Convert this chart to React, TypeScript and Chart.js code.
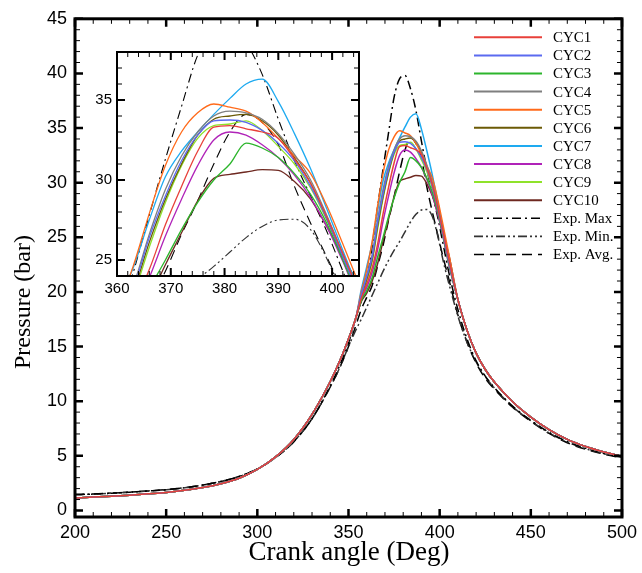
import React, { useEffect, useRef } from "react";
import { Chart, registerables } from "chart.js";
Chart.register(...registerables);

// ---------------- DATA ----------------
const SERIES_LABELS = ["CYC1", "CYC2", "CYC3", "CYC4", "CYC5", "CYC6", "CYC7", "CYC8", "CYC9", "CYC10", "Exp. Max", "Exp. Min.", "Exp. Avg."];
const SERIES_COLORS = ["#e8403a", "#5b6af0", "#2cb52c", "#7f7f7f", "#ff6a1a", "#6b5a05", "#1eaaf0", "#b023b8", "#8fe22a", "#6e2820", "#000000", "#333333", "#000000"];

const X_TICKS_MAIN = [200, 250, 300, 350, 400, 450, 500];
const Y_TICKS_MAIN = [0, 5, 10, 15, 20, 25, 30, 35, 40, 45];
const X_TICKS_INSET = [360, 370, 380, 390, 400];
const Y_TICKS_INSET = [25, 30, 35];

// compression part (crank angle, deg)
const COMP_ANGLES = [200, 210, 220, 230, 240, 250, 260, 270, 280, 290, 300, 310, 320, 330, 340, 345, 350, 354];
const CYC_COMP = [1.15, 1.22, 1.3, 1.4, 1.52, 1.65, 1.85, 2.1, 2.45, 2.95, 3.75, 4.9, 6.5, 8.8, 11.8, 13.6, 15.7, 17.6];
const EXP_AVG_COMP = [1.45, 1.5, 1.58, 1.67, 1.78, 1.9, 2.08, 2.32, 2.65, 3.1, 3.8, 4.85, 6.3, 8.4, 11.3, 13.0, 15.0, 16.9];
const EXP_MAX_COMP = [1.45, 1.5, 1.58, 1.67, 1.78, 1.9, 2.08, 2.32, 2.65, 3.1, 3.8, 4.85, 6.3, 8.4, 11.4, 13.2, 15.3, 17.6];
const EXP_MIN_COMP = [1.45, 1.5, 1.58, 1.67, 1.78, 1.9, 2.08, 2.32, 2.65, 3.1, 3.8, 4.85, 6.3, 8.4, 11.3, 13.0, 15.0, 16.5];

// combustion part
const PEAK_ANGLES = [357, 360, 363, 366, 369, 372, 375, 378, 381, 384, 387, 390, 393, 396, 399, 402, 405];
const CYC1_PEAK = [19.4, 20.7, 22.2, 24.4, 27.2, 29.6, 31.8, 33.3, 33.4, 33.2, 33.0, 32.6, 31.3, 29.8, 27.7, 25.4, 23.0];
const CYC2_PEAK = [19.7, 21.4, 23.2, 26.4, 29.0, 31.2, 32.8, 33.7, 33.75, 33.6, 33.1, 32.3, 31.2, 29.6, 27.6, 25.2, 22.8];
const CYC3_PEAK = [19.2, 20.1, 21.3, 23.2, 25.0, 26.9, 28.6, 30.0, 31.0, 32.3, 32.0, 31.4, 30.4, 29.1, 27.3, 25.0, 22.6];
const CYC4_PEAK = [19.8, 21.5, 23.4, 26.6, 29.4, 31.5, 33.0, 34.0, 34.3, 34.2, 33.8, 32.9, 31.6, 30.0, 27.8, 25.4, 23.0];
const CYC5_PEAK = [20.0, 22.0, 24.6, 27.9, 30.9, 33.0, 34.2, 34.75, 34.55, 34.3, 33.6, 32.6, 31.5, 30.4, 28.4, 26.0, 23.5];
const CYC6_PEAK = [19.6, 21.2, 23.0, 26.1, 28.8, 31.0, 32.8, 33.8, 34.0, 34.1, 33.7, 32.8, 31.4, 29.8, 27.6, 25.2, 22.8];
const CYC7_PEAK = [20.2, 22.3, 24.5, 27.5, 30.2, 31.8, 33.0, 34.1, 35.1, 36.0, 36.3, 34.9, 32.9, 30.7, 28.2, 25.6, 23.1];
const CYC8_PEAK = [19.3, 20.4, 21.8, 23.9, 26.5, 28.8, 30.9, 32.5, 33.0, 32.8, 32.2, 31.4, 30.3, 28.9, 27.1, 24.9, 22.5];
const CYC9_PEAK = [19.6, 21.0, 22.8, 25.8, 28.6, 30.9, 32.6, 33.4, 33.5, 33.7, 33.1, 32.1, 31.0, 29.5, 27.5, 25.2, 22.8];
const CYC10_PEAK = [19.1, 19.9, 21.0, 22.6, 24.7, 26.7, 28.7, 30.1, 30.35, 30.5, 30.65, 30.6, 29.9, 28.8, 27.1, 25.2, 23.4];
const EXP_MAX_PEAK = [19.2, 21.0, 24.2, 27.8, 31.3, 34.6, 37.8, 39.5, 39.8, 38.6, 36.6, 33.8, 31.2, 29.0, 26.8, 24.3, 21.8];
const EXP_MIN_PEAK = [17.5, 18.6, 19.7, 20.8, 21.9, 22.9, 23.8, 24.6, 25.5, 26.4, 27.1, 27.5, 27.55, 26.9, 25.1, 22.8, 20.8];
const EXP_AVG_PEAK = [18.4, 19.5, 20.6, 22.4, 24.3, 26.6, 28.7, 31.0, 33.0, 34.1, 33.6, 32.2, 29.6, 27.3, 25.2, 23.1, 21.2];

// expansion part
const TAIL_ANGLES = [410, 415, 420, 425, 430, 440, 450, 460, 470, 480, 490, 500];
const CYC_TAIL = [19.3, 16.5, 14.4, 12.9, 11.75, 9.95, 8.55, 7.4, 6.5, 5.85, 5.35, 4.95];
const EXP_MAX_TAIL = [18.4, 15.7, 13.7, 12.3, 11.25, 9.55, 8.25, 7.15, 6.3, 5.7, 5.22, 4.85];
const EXP_MIN_TAIL = [17.8, 15.4, 13.6, 12.25, 11.2, 9.5, 8.2, 7.1, 6.25, 5.65, 5.2, 4.85];
const EXP_AVG_TAIL = [17.9, 15.4, 13.5, 12.1, 11.1, 9.45, 8.15, 7.05, 6.2, 5.6, 5.15, 4.8];

const CYC_PEAKS = [CYC1_PEAK, CYC2_PEAK, CYC3_PEAK, CYC4_PEAK, CYC5_PEAK, CYC6_PEAK, CYC7_PEAK, CYC8_PEAK, CYC9_PEAK, CYC10_PEAK];

// ---------------- HELPERS ----------------
function buildPoints(comp: number[], peak: number[], tail: number[]) {
  const pts: { x: number; y: number }[] = [];
  COMP_ANGLES.forEach((a, i) => pts.push({ x: a, y: comp[i] }));
  PEAK_ANGLES.forEach((a, i) => pts.push({ x: a, y: peak[i] }));
  TAIL_ANGLES.forEach((a, i) => pts.push({ x: a, y: tail[i] }));
  return pts;
}

const DASHES: number[][] = [[9, 4, 2, 4], [9, 3, 2, 3, 2, 3], [10, 6]];

function buildDatasets(cycWidth: number, expWidth: number) {
  const ds: any[] = [];
  CYC_PEAKS.forEach((pk, i) => {
    ds.push({
      label: SERIES_LABELS[i],
      data: buildPoints(CYC_COMP, pk, CYC_TAIL),
      borderColor: SERIES_COLORS[i],
      borderWidth: cycWidth,
      borderDash: [],
    });
  });
  const expSets = [
    [EXP_MAX_COMP, EXP_MAX_PEAK, EXP_MAX_TAIL],
    [EXP_MIN_COMP, EXP_MIN_PEAK, EXP_MIN_TAIL],
    [EXP_AVG_COMP, EXP_AVG_PEAK, EXP_AVG_TAIL],
  ];
  expSets.forEach((s, j) => {
    ds.push({
      label: SERIES_LABELS[10 + j],
      data: buildPoints(s[0], s[1], s[2]),
      borderColor: SERIES_COLORS[10 + j],
      borderWidth: expWidth,
      borderDash: DASHES[j],
    });
  });
  return ds.map((d) => ({
    ...d,
    pointRadius: 0,
    fill: false,
    cubicInterpolationMode: "monotone",
  }));
}

// frame + inward ticks on all four sides
const frameTicks = {
  id: "frameTicks",
  afterDatasetsDraw(chart: any, _args: any, opts: any) {
    const { ctx, chartArea: ca, scales } = chart;
    const xs = scales.x;
    const ys = scales.y;
    ctx.save();
    ctx.strokeStyle = "#000";
    const drawX = (step: number, len: number, lw: number) => {
      ctx.lineWidth = lw;
      ctx.beginPath();
      const n0 = Math.ceil(xs.min / step - 1e-9);
      const n1 = Math.floor(xs.max / step + 1e-9);
      for (let n = n0; n <= n1; n++) {
        const p = xs.getPixelForValue(n * step);
        ctx.moveTo(p, ca.bottom);
        ctx.lineTo(p, ca.bottom - len);
        ctx.moveTo(p, ca.top);
        ctx.lineTo(p, ca.top + len);
      }
      ctx.stroke();
    };
    const drawY = (step: number, len: number, lw: number) => {
      ctx.lineWidth = lw;
      ctx.beginPath();
      const n0 = Math.ceil(ys.min / step - 1e-9);
      const n1 = Math.floor(ys.max / step + 1e-9);
      for (let n = n0; n <= n1; n++) {
        const p = ys.getPixelForValue(n * step);
        ctx.moveTo(ca.left, p);
        ctx.lineTo(ca.left + len, p);
        ctx.moveTo(ca.right, p);
        ctx.lineTo(ca.right - len, p);
      }
      ctx.stroke();
    };
    drawX(opts.xMinor, opts.minorLen, opts.minorWidth);
    drawY(opts.yMinor, opts.minorLen, opts.minorWidth);
    drawX(opts.xMajor, opts.majorLen, opts.majorWidth);
    drawY(opts.yMajor, opts.majorLen, opts.majorWidth);
    ctx.lineWidth = opts.frameWidth;
    ctx.strokeRect(ca.left, ca.top, ca.width, ca.height);
    ctx.restore();
  },
};

const whiteArea = {
  id: "whiteArea",
  beforeDraw(chart: any) {
    const { ctx, chartArea: ca } = chart;
    ctx.save();
    ctx.fillStyle = "#fff";
    ctx.fillRect(ca.left, ca.top, ca.width, ca.height);
    ctx.restore();
  },
};

const mainDecor = {
  id: "mainDecor",
  afterDraw(chart: any) {
    const { ctx } = chart;
    ctx.save();
    // legend
    chart.data.datasets.forEach((d: any, i: number) => {
      const y = 37.3 + i * 18.1;
      ctx.strokeStyle = d.borderColor;
      ctx.lineWidth = i < 10 ? 2 : 1.6;
      ctx.setLineDash(d.borderDash || []);
      ctx.beginPath();
      ctx.moveTo(474, y);
      ctx.lineTo(542, y);
      ctx.stroke();
      ctx.setLineDash([]);
      ctx.fillStyle = "#000";
      ctx.font = "15px 'Liberation Serif'";
      ctx.textAlign = "left";
      ctx.textBaseline = "middle";
      ctx.fillText(d.label, 553, y + 1);
    });
    // axis titles
    ctx.fillStyle = "#000";
    ctx.font = "27px 'Liberation Serif'";
    ctx.textAlign = "center";
    ctx.textBaseline = "middle";
    ctx.fillText("Crank angle (Deg)", 349, 553);
    ctx.translate(24, 302);
    ctx.rotate(-Math.PI / 2);
    ctx.font = "24px 'Liberation Serif'";
    ctx.fillText("Pressure (bar)", 0, 0);
    ctx.restore();
  },
};

export default function App() {
  const mainRef = useRef<HTMLCanvasElement>(null);
  const insetRef = useRef<HTMLCanvasElement>(null);

  useEffect(() => {
    const main = new Chart(mainRef.current!, {
      type: "line",
      data: { datasets: buildDatasets(1.5, 1.5) },
      options: {
        animation: false,
        responsive: false,
        devicePixelRatio: 1,
        layout: { padding: { left: 0, top: 15, right: 16, bottom: 0 } },
        plugins: {
          legend: { display: false },
          tooltip: { enabled: false },
          frameTicks: { xMajor: 50, xMinor: 10, yMajor: 5, yMinor: 1, majorLen: 8, minorLen: 5, majorWidth: 2.5, minorWidth: 1, frameWidth: 3 },
        } as any,
        scales: {
          x: {
            type: "linear",
            min: 200,
            max: 500,
            grid: { display: false, drawTicks: false },
            border: { display: false },
            afterBuildTicks: (s: any) => {
              s.ticks = X_TICKS_MAIN.map((v) => ({ value: v }));
            },
            afterFit: (s: any) => {
              s.height = 56;
            },
            ticks: { color: "#000", font: { family: "'Liberation Sans', Arial", size: 18 }, padding: 5, maxRotation: 0, autoSkip: false },
          },
          y: {
            type: "linear",
            min: -0.6,
            max: 45,
            grid: { display: false, drawTicks: false },
            border: { display: false },
            afterBuildTicks: (s: any) => {
              s.ticks = Y_TICKS_MAIN.map((v) => ({ value: v }));
            },
            afterFit: (s: any) => {
              s.width = 75;
            },
            ticks: { color: "#000", font: { family: "'Liberation Sans', Arial", size: 18 }, padding: 8, autoSkip: false },
          },
        },
      },
      plugins: [frameTicks, mainDecor],
    });

    const inset = new Chart(insetRef.current!, {
      type: "line",
      data: { datasets: buildDatasets(1.3, 1.1) },
      options: {
        animation: false,
        responsive: false,
        devicePixelRatio: 1,
        layout: { padding: { left: 0, top: 7, right: 11, bottom: 0 } },
        plugins: {
          legend: { display: false },
          tooltip: { enabled: false },
          frameTicks: { xMajor: 10, xMinor: 2, yMajor: 5, yMinor: 1, majorLen: 8, minorLen: 5, majorWidth: 2, minorWidth: 1, frameWidth: 2 },
        } as any,
        scales: {
          x: {
            type: "linear",
            min: 360,
            max: 405,
            grid: { display: false, drawTicks: false },
            border: { display: false },
            afterBuildTicks: (s: any) => {
              s.ticks = X_TICKS_INSET.map((v) => ({ value: v }));
            },
            afterFit: (s: any) => {
              s.height = 32;
            },
            ticks: { color: "#000", font: { family: "'Liberation Sans', Arial", size: 15 }, padding: 4, maxRotation: 0, autoSkip: false },
          },
          y: {
            type: "linear",
            min: 24,
            max: 38,
            grid: { display: false, drawTicks: false },
            border: { display: false },
            afterBuildTicks: (s: any) => {
              s.ticks = Y_TICKS_INSET.map((v) => ({ value: v }));
            },
            afterFit: (s: any) => {
              s.width = 37;
            },
            ticks: { color: "#000", font: { family: "'Liberation Sans', Arial", size: 15 }, padding: 5, autoSkip: false },
          },
        },
      },
      plugins: [whiteArea, frameTicks],
    });

    return () => {
      main.destroy();
      inset.destroy();
    };
  }, []);

  return (
    <div style={{ position: "fixed", left: 0, top: 0, width: 642, height: 573, background: "#fff" }}>
      <canvas ref={mainRef} width={642} height={573} style={{ position: "absolute", left: 0, top: 0, width: 642, height: 573 }} />
      <canvas ref={insetRef} width={290} height={270} style={{ position: "absolute", left: 80, top: 38, width: 290, height: 270 }} />
    </div>
  );
}
